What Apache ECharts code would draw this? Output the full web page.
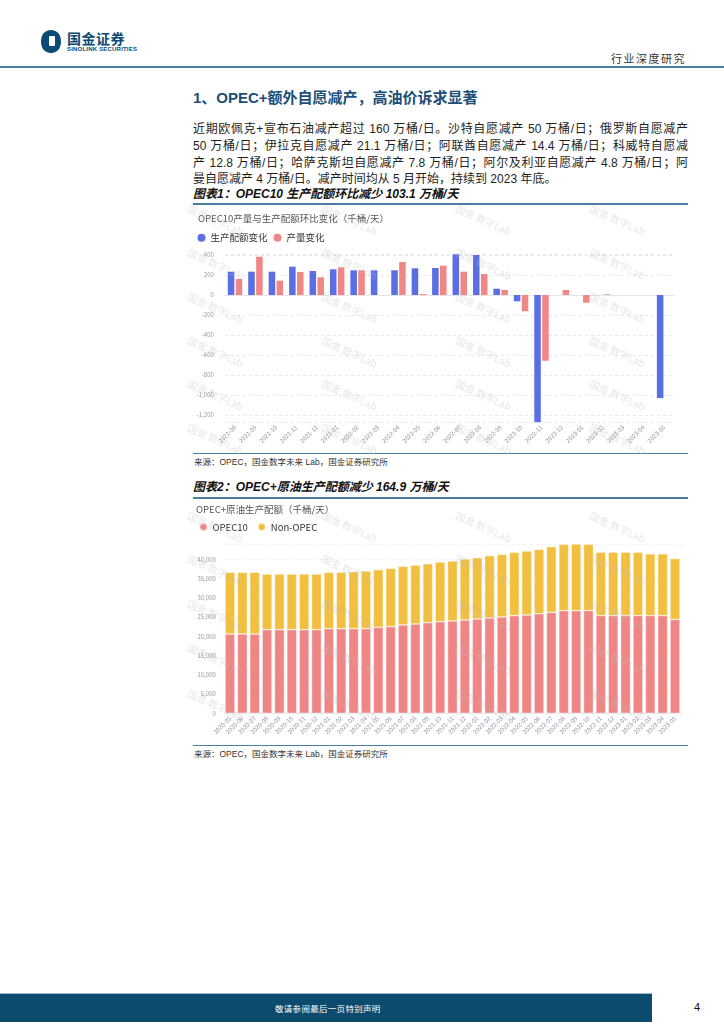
<!DOCTYPE html>
<html><head><meta charset="utf-8">
<script src="https://cdn.jsdelivr.net/npm/echarts/dist/echarts.min.js"></script>
<style>
html,body{margin:0;padding:0}
body{width:724px;height:1024px;position:relative;background:#fff;overflow:hidden;font-family:"Liberation Sans","Noto Sans CJK SC",sans-serif;color:#222}
.abs{position:absolute}
.hr{position:absolute;left:193px;width:495px;background:#4d7d9c}
.line{position:absolute;left:193px;width:495px;font-size:12px;line-height:16px;text-align:justify;text-align-last:justify;color:#1e1e1e;white-space:nowrap}
.cap{position:absolute;left:193px;font-size:12px;font-weight:bold;font-style:italic;color:#111;line-height:14px;white-space:nowrap}
.src{position:absolute;left:194px;font-size:8.5px;color:#333;line-height:10px;white-space:nowrap}
.wm{position:absolute;font-size:10px;color:rgba(190,190,190,0.38);transform:rotate(24deg);transform-origin:center;white-space:nowrap;z-index:5;pointer-events:none;font-family:"Noto Sans CJK SC",sans-serif}
#c{position:absolute;left:0;top:0;width:724px;height:1024px;z-index:2}
</style></head>
<body>
<!-- header -->
<svg class="abs" style="left:40px;top:30px" width="22" height="23" viewBox="0 0 22 23">
  <path d="M11 0 C17.5 0 21 5 21 11.5 C21 18 17.5 23 11 23 C4.5 23 1 18 1 11.5 C1 5 4.5 0 11 0 Z" fill="#0b4a73"/>
  <rect x="9" y="6" width="6" height="10" rx="1" fill="#fff"/>
</svg>
<div class="abs" style="left:67px;top:30px;font-size:14px;font-weight:bold;color:#0b4a73;letter-spacing:0.5px;font-family:'Noto Sans CJK SC',sans-serif;line-height:16px">国金证券</div>
<div class="abs" style="left:67px;top:46px;font-size:6px;font-weight:bold;color:#0b4a73;letter-spacing:0.2px;line-height:7px">SINOLINK SECURITIES</div>
<div class="abs" style="left:611px;top:52px;font-size:11px;color:#333;letter-spacing:1.5px;line-height:13px;font-family:'Noto Sans CJK SC',sans-serif">行业深度研究</div>
<div class="abs" style="left:0;top:66px;width:724px;height:2px;background:#4d7d9c"></div>

<div class="abs" style="left:193px;top:89px;font-size:15px;font-weight:bold;color:#1b4f78;line-height:18px;white-space:nowrap">1、OPEC+额外自愿减产，高油价诉求显著</div>

<div class="line" style="top:121px">近期欧佩克+宣布石油减产超过 160 万桶/日。沙特自愿减产 50 万桶/日；俄罗斯自愿减产</div>
<div class="line" style="top:138px">50 万桶/日；伊拉克自愿减产 21.1 万桶/日；阿联酋自愿减产 14.4 万桶/日；科威特自愿减</div>
<div class="line" style="top:154.5px">产 12.8 万桶/日；哈萨克斯坦自愿减产 7.8 万桶/日；阿尔及利亚自愿减产 4.8 万桶/日；阿</div>
<div class="line" style="top:171px;text-align-last:left">曼自愿减产 4 万桶/日。减产时间均从 5 月开始，持续到 2023 年底。</div>

<div class="cap" style="top:187px">图表1：OPEC10 生产配额环比减少 103.1 万桶/天</div>
<div class="hr" style="top:203px;height:2px"></div>

<div class="hr" style="top:453px;height:1px"></div>
<div class="src" style="top:457px">来源：OPEC，国金数字未来 Lab，国金证券研究所</div>

<div class="cap" style="top:480px">图表2：OPEC+原油生产配额减少 164.9 万桶/天</div>
<div class="hr" style="top:497px;height:2px"></div>

<div class="hr" style="top:745px;height:1px"></div>
<div class="src" style="top:749px">来源：OPEC，国金数字未来 Lab，国金证券研究所</div>

<!-- footer -->
<div class="abs" style="left:0;top:993px;width:652px;height:1px;background:#9fbdd0"></div>
<div class="abs" style="left:0;top:994px;width:652px;height:28px;background:#0c4a6e"></div>
<div class="abs" style="left:275px;top:1003px;font-size:8.5px;color:#fff;line-height:10px;letter-spacing:0.3px;font-family:'Noto Sans CJK SC',sans-serif">敬请参阅最后一页特别声明</div>
<div class="abs" style="left:694px;top:1001px;font-size:11px;color:#111;line-height:13px">4</div>

<div id="wmBox"></div>
<div id="c"></div>

<script>
// ---------- Chart 1 data ----------
const months1 = ['2021-08','2021-09','2021-10','2021-11','2021-12','2022-01','2022-02','2022-03','2022-04','2022-05','2022-06','2022-07','2022-08','2022-09','2022-10','2022-11','2022-12','2023-01','2023-02','2023-03','2023-04','2023-05'];
const quotaChange = [233,233,233,283,240,257,247,247,247,267,270,407,400,63,-63,-1272,null,null,null,null,null,-1031];
const outputChange = [160,383,143,230,177,277,247,null,330,10,293,233,210,50,-163,-657,50,-77,7,null,null,null];

// ---------- Chart 2 data ----------
const months2 = ['2020-05','2020-06','2020-07','2020-08','2020-09','2020-10','2020-11','2020-12',
 '2021-01','2021-02','2021-03','2021-04','2021-05','2021-06','2021-07','2021-08','2021-09','2021-10','2021-11','2021-12',
 '2022-01','2022-02','2022-03','2022-04','2022-05','2022-06','2022-07','2022-08','2022-09','2022-10','2022-11','2022-12',
 '2023-01','2023-02','2023-03','2023-04','2023-05'];
const opec10 = [20600,20600,20600,21730,21730,21730,21730,21730,21990,21990,21990,21990,22340,22510,22940,23200,23550,23810,23980,24240,24500,24760,25020,25370,25540,25890,26230,26670,26670,26670,25400,25400,25400,25400,25400,25400,24370];
const nonOpec = [16020,16020,16020,14460,14460,14460,14460,14460,14630,14630,14810,14980,14980,15150,15240,15300,15300,15500,15590,15850,15930,16190,16280,16450,16630,16710,17060,17230,17310,17230,16460,16460,16460,16460,16020,16020,15840];

// watermarks
(function(){
  const box = document.getElementById('wmBox');
  const cols = [186, 320, 454, 588];
  const rows = [208, 252, 296, 340, 383, 427, 515, 558, 603, 647, 693];
  rows.forEach(r => cols.forEach(c => {
    const d = document.createElement('div');
    d.className = 'wm';
    d.textContent = '国金 数字Lab';
    d.style.left = c + 'px';
    d.style.top = (r + 4) + 'px';
    box.appendChild(d);
  }));
})();

function fmtStep(step){
  return function(v){
    if (Math.round(v) % step !== 0) return '';
    return Number(v).toLocaleString('en-US');
  };
}

const totalMax = Math.max.apply(null, opec10.map((v,i)=>v+nonOpec[i]));
const labelColor = '#8d92a3';
const font = '"Noto Sans CJK SC","Liberation Sans",sans-serif';

const chart = echarts.init(document.getElementById('c'), null, {renderer:'canvas'});
chart.setOption({
  animation:false,
  backgroundColor:'transparent',
  textStyle:{fontFamily:font},
  title:[
    {text:'OPEC10产量与生产配额环比变化（千桶/天）', left:198, top:214, padding:0,
     textStyle:{fontSize:9.5, fontWeight:'normal', color:'#555', fontFamily:font}},
    {text:'OPEC+原油生产配额（千桶/天）', left:196, top:505, padding:0,
     textStyle:{fontSize:9.5, fontWeight:'normal', color:'#555', fontFamily:font}}
  ],
  legend:[
    {data:['生产配额变化','产量变化'], left:197.5, top:233, padding:0, icon:'circle',
     itemWidth:8, itemHeight:8, itemGap:6, textStyle:{fontSize:9.5, color:'#333', fontFamily:font}},
    {data:['OPEC10','Non-OPEC'], left:198.5, top:522, padding:0, icon:'circle',
     itemWidth:8, itemHeight:8, itemGap:9, textStyle:{fontSize:9.5, color:'#333', fontFamily:font}}
  ],
  grid:[
    {left:224.8, top:254.3, width:449.5, height:167.9},
    {left:223.8, top:544, width:457.4, height:169.3}
  ],
  xAxis:[
    {type:'category', gridIndex:0, data:months1,
     axisLine:{lineStyle:{color:'#e6e6e6'}}, axisTick:{show:false},
     axisLabel:{rotate:45, fontSize:6, color:labelColor, interval:0, margin:4}},
    {type:'category', gridIndex:1, data:months2,
     axisLine:{lineStyle:{color:'#e6e6e6'}}, axisTick:{show:false},
     axisLabel:{rotate:45, fontSize:6, color:labelColor, interval:0, margin:4}}
  ],
  yAxis:[
    {type:'value', gridIndex:0, min:'dataMin', max:'dataMax', splitNumber:8,
     axisLine:{show:false}, axisTick:{show:false},
     axisLabel:{fontSize:6, color:'#999', margin:11, formatter:fmtStep(200), showMinLabel:true, showMaxLabel:true},
     splitLine:{lineStyle:{type:[3,3], color:'#e9e9e9'}}},
    {type:'value', gridIndex:1, min:0, max:totalMax, interval:5000,
     axisLine:{show:false}, axisTick:{show:false},
     axisLabel:{fontSize:6, color:'#999', margin:8, formatter:fmtStep(5000)},
     splitLine:{lineStyle:{type:[3,3], color:'#f0f0f0'}}}
  ],
  series:[
    {name:'生产配额变化', type:'bar', xAxisIndex:0, yAxisIndex:0, data:quotaChange,
     barWidth:'32%', barGap:'21%', itemStyle:{color:'#5a6fe3'}},
    {name:'产量变化', type:'bar', xAxisIndex:0, yAxisIndex:0, data:outputChange,
     barWidth:'32%', barGap:'21%', itemStyle:{color:'#f18686'}},
    {name:'OPEC10', type:'bar', stack:'total', xAxisIndex:1, yAxisIndex:1, data:opec10,
     barWidth:'80%', itemStyle:{color:'#f08585', borderColor:'rgba(255,255,255,0.7)', borderWidth:0.6}},
    {name:'Non-OPEC', type:'bar', stack:'total', xAxisIndex:1, yAxisIndex:1, data:nonOpec,
     barWidth:'80%', itemStyle:{color:'#f2bf40', borderColor:'rgba(255,255,255,0.7)', borderWidth:0.6}}
  ]
});
</script>
</body></html>
